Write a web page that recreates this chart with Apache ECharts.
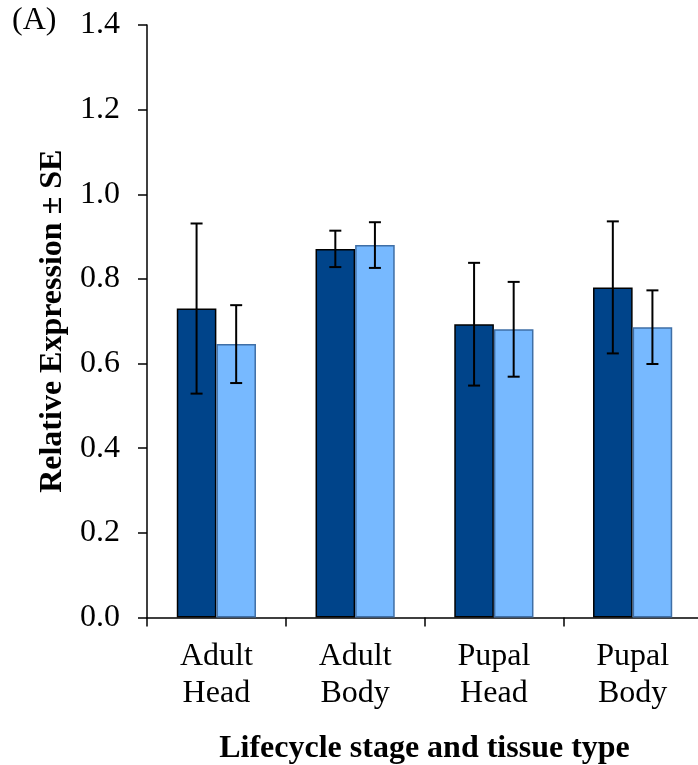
<!DOCTYPE html>
<html>
<head>
<meta charset="utf-8">
<script src="https://cdn.jsdelivr.net/npm/echarts@6/dist/echarts.min.js"></script>
<style>
html, body { margin: 0; padding: 0; background: #fff; }
#chart { width: 698px; height: 765px; }
</style>
</head>
<body>
<div id="chart"></div>
<script>
// 数据
var categories = ["Adult\nHead", "Adult\nBody", "Pupal\nHead", "Pupal\nBody"];
var darkValues = [0.730, 0.871, 0.693, 0.780];
var darkSE = [0.201, 0.043, 0.145, 0.156];
var lightValues = [0.646, 0.880, 0.681, 0.686];
var lightSE = [0.092, 0.054, 0.112, 0.087];
var yTicks = [0, 0.2, 0.4, 0.6, 0.8, 1.0, 1.2, 1.4];

var serif = "Liberation Serif";
var barW = 39.6;

var errData = function(vals, se) {
    var out = [];
    for (var i = 0; i < vals.length; i++) {
        out.push([i, vals[i] - se[i], vals[i] + se[i]]);
    }
    return out;
};

var errSeries = function(vals, se, shift) {
    return {
        type: 'custom',
        z: 10,
        silent: true,
        data: errData(vals, se),
        renderItem: function(params, api) {
            var lo = api.coord([api.value(0), api.value(1)]);
            var hi = api.coord([api.value(0), api.value(2)]);
            var x = lo[0] + shift;
            var cap = 6;
            var style = { stroke: '#000', lineWidth: 2 };
            return {
                type: 'group',
                children: [
                    { type: 'line', shape: { x1: x, y1: lo[1], x2: x, y2: hi[1] }, style: style },
                    { type: 'line', shape: { x1: x - cap, y1: lo[1], x2: x + cap, y2: lo[1] }, style: style },
                    { type: 'line', shape: { x1: x - cap, y1: hi[1], x2: x + cap, y2: hi[1] }, style: style }
                ]
            };
        }
    };
};

var myChart = echarts.init(document.getElementById("chart"));
var option = {
    backgroundColor: '#fff',
    animation: false,
    graphic: [{
        type: 'text',
        left: 12,
        top: 5,
        style: { text: '(A)', font: '32px "Liberation Serif"', fill: '#000' }
    }],
    grid: { left: 147, width: 555, top: 25, bottom: 147.5, outerBoundsMode: 'none', containLabel: false },
    xAxis: {
        type: 'category',
        data: categories,
        name: 'Lifecycle stage and tissue type',
        nameLocation: 'middle',
        nameGap: 115,
        nameTextStyle: { fontFamily: serif, fontWeight: 'bold', fontSize: 32, color: '#000' },
        axisLine: { lineStyle: { color: '#000', width: 1.5 } },
        axisTick: { show: true, inside: false, length: 9, lineStyle: { color: '#000', width: 1.5 } },
        axisLabel: { fontFamily: serif, fontSize: 32, color: '#000', lineHeight: 37, margin: 21 }
    },
    yAxis: {
        type: 'value',
        min: 0,
        max: 1.4,
        interval: 0.2,
        name: 'Relative Expression ± SE',
        nameLocation: 'middle',
        nameGap: 72,
        nameTextStyle: { fontFamily: serif, fontWeight: 'bold', fontSize: 32, color: '#000' },
        splitLine: { show: false },
        axisLine: { show: true, lineStyle: { color: '#000', width: 1.5 } },
        axisTick: { show: true, length: 9, lineStyle: { color: '#000', width: 1.5 } },
        axisLabel: {
            fontFamily: serif, fontSize: 32, color: '#000', margin: 27,
            formatter: function(v) { return v.toFixed(1); }
        }
    },
    series: [{
        type: 'bar',
        data: darkValues,
        barWidth: barW,
        barGap: '0%',
        itemStyle: { color: '#00448a', borderColor: '#000', borderWidth: 1.5 }
    }, {
        type: 'bar',
        data: lightValues,
        barWidth: barW,
        barGap: '0%',
        itemStyle: { color: '#77b9ff', borderColor: '#3f6fa6', borderWidth: 1.5 }
    },
    errSeries(darkValues, darkSE, -barW / 2),
    errSeries(lightValues, lightSE, barW / 2)
    ]
};
myChart.setOption(option);
</script>
</body>
</html>
